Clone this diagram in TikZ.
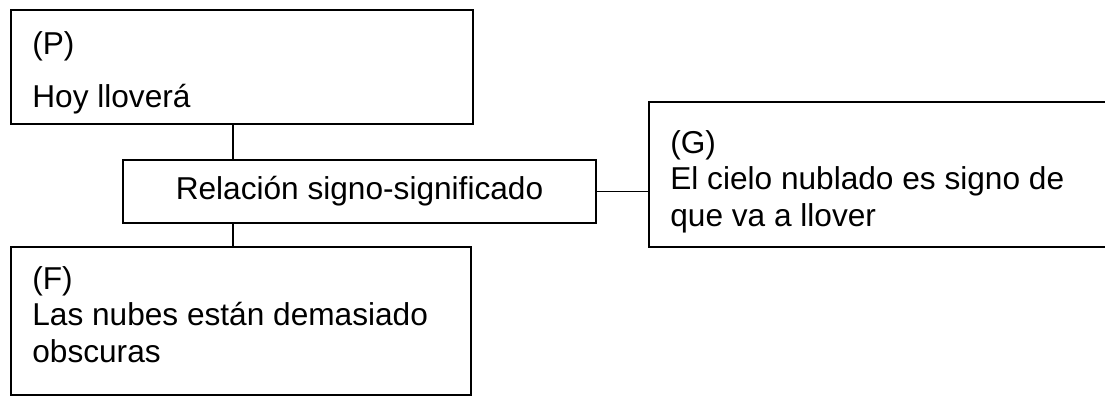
\documentclass[tikz,border=0pt]{standalone}
\usepackage{fontspec}
\setmainfont{Liberation Sans}
\usetikzlibrary{calc}

\begin{document}
\begin{tikzpicture}[x=0.02cm, y=-0.02cm]
	\tikzset{box/.style={
			draw,
			line width=1.1pt,
			inner sep=0pt,
			font=\fontsize{18}{20.5}\selectfont
		},
		txt/.style={
			inner sep=0pt,
			anchor=base west,
			align=left,
			font=\fontsize{18}{20.5}\selectfont
		},
		link/.style={line width=0.8pt}
	}
	\clip (0,0) rectangle (1105,397);
	
	%% BOXES
	\node[box, minimum width=9.24cm, minimum height=2.28cm] (P) at (242,67) {};
	\node[box, minimum width=9.46cm, minimum height=1.26cm] (Rel) at (359.5,191.5) {Relación signo-significado};
	\node[box, minimum width=9.2cm, minimum height=2.96cm] (F) at (241,321) {};
	\node[box, minimum width=9.82cm, minimum height=2.9cm] (G) at (894.5,174.5) {};
	
	%% TEXTS (anchored at the baseline of the last line)
	\node[txt] (Ptext) at (32,107) {(P)\\[0.32cm]Hoy lloverá};
	\node[txt] (Ftext) at (32,362) {(F)\\Las nubes están demasiado\\obscuras};
	\node[txt] (Gtext) at (670,226) {(G)\\El cielo nublado es signo de\\que va a llover};
	
	%% LINKS
	\draw[link] ([xshift=-0.18cm]P.south) -- ([xshift=-0.18cm]P.south |- Rel.north);
	\draw[link] ([xshift=-0.18cm]P.south |- Rel.south) -- ([xshift=-0.18cm]P.south |- F.north);
	\draw[link] (Rel.east) -- (Rel.east -| G.west);
	
\end{tikzpicture}
\end{document}
